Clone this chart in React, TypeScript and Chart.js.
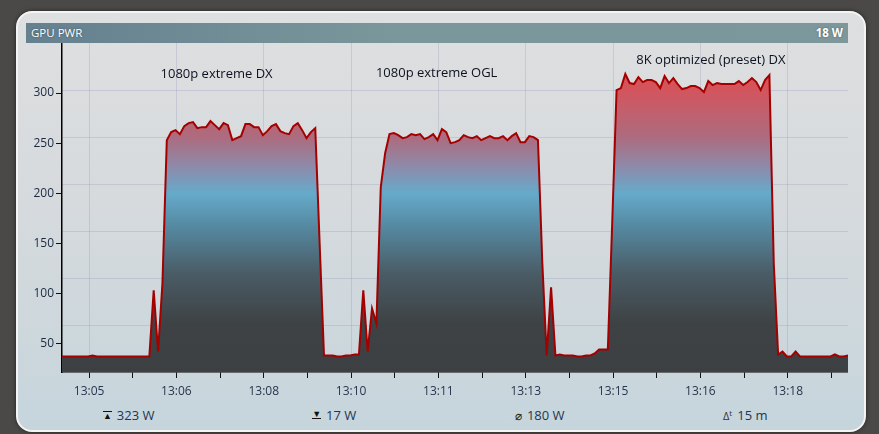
import { useEffect, useRef } from "react"
import { Chart, registerables } from "chart.js"

Chart.register(...registerables)

// samples every 5 s, starting 13:04:29 (seconds since midnight)
const START = 47069
const STEP = 5
const SPAN = 900

const power = [
  37, 37, 37, 37, 37, 37, 37, 38, 37, 37, 37, 37, 37, 37, 37, 37, 37, 37, 37, 37, 37,
  103, 42, 110,
  253, 261, 263, 259, 267, 270, 271, 265, 266, 266, 272, 268, 264, 270, 268, 253, 255, 257,
  269, 269, 266, 266, 258, 262, 267, 269, 262, 260, 259, 267, 270, 263, 255, 261, 265,
  150,
  38, 38, 38, 37, 37, 38, 38, 39, 39,
  103, 42, 85, 70, 206, 240,
  259, 260, 258, 255, 256, 259, 258, 259, 254, 256, 259, 253, 264, 261, 250, 251, 253, 258,
  256, 255, 257, 253, 255, 257, 255, 255, 257, 253, 257, 260, 251, 251, 257, 256, 253,
  130, 38, 106, 38,
  39, 38, 38, 38, 37, 37, 38, 38, 40,
  44, 44, 44, 170,
  303, 305, 319, 310, 309, 316, 311, 313, 313, 311, 305, 317, 310, 315, 309, 304, 305, 307,
  307, 305, 301, 312, 308, 310, 309, 309, 309, 309, 312, 308, 311, 315, 311, 303, 313, 318,
  130, 39, 42, 37, 37, 42,
  37, 37, 37, 37, 37, 37, 37, 37,
  39, 37, 37, 38,
]

const xMajorTimes = [47100, 47200, 47300, 47400, 47500, 47600, 47700, 47800, 47900]
const xTickLabels = ["13:05", "13:06", "13:08", "13:10", "13:11", "13:13", "13:15", "13:16", "13:18"]
const xMinorTimes = [47150, 47250, 47350, 47450, 47550, 47650, 47750, 47850, 47950]
const yTicks = [50, 100, 150, 200, 250, 300]

const noteLabels = ["1080p extreme DX", "1080p extreme OGL", "8K optimized (preset) DX"]
const noteTimes = [47246, 47498, 47812]
const noteValues = [318.5, 320, 333]

const statKinds = ["max", "min", "avg", "dt"]
const statTexts = ["323 W", "17 W", "180 W", "15 m"]

const FONT = "'Open Sans', 'Noto Sans', sans-serif"
const gridColor = "rgba(110,120,175,0.2)"

const notesPlugin = {
  id: "notes",
  afterDatasetsDraw(chart: any) {
    const { ctx, scales } = chart
    ctx.save()
    ctx.font = "13px 'Open Sans'"
    ctx.fillStyle = "#0c1220"
    ctx.textAlign = "center"
    ctx.textBaseline = "middle"
    noteLabels.forEach((t, i) => {
      ctx.fillText(t, scales.x.getPixelForValue(noteTimes[i]), scales.y.getPixelForValue(noteValues[i]))
    })
    ctx.restore()
  },
}

function fillGradient(context: any) {
  const { chart } = context
  const { ctx, chartArea, scales } = chart
  if (!chartArea) return "rgba(60,64,66,1)"
  const y = scales.y
  const g = ctx.createLinearGradient(0, chartArea.bottom, 0, chartArea.top)
  const stops: [number, string][] = [
    [21.5, "rgb(60,64,66)"],
    [70, "rgb(62,66,68)"],
    [120, "rgb(74,92,102)"],
    [170, "rgb(86,140,165)"],
    [200, "rgb(102,170,202)"],
    [225, "rgb(140,140,172)"],
    [255, "rgb(172,108,128)"],
    [305, "rgb(212,84,92)"],
    [350, "rgb(226,76,80)"],
  ]
  const span = y.max - y.min
  stops.forEach(([v, c]) => g.addColorStop(Math.min(1, Math.max(0, (v - y.min) / span)), c))
  return g
}

function GpuChart() {
  const chartRef = useRef<HTMLCanvasElement>(null)
  const chartInstance = useRef<Chart | null>(null)

  useEffect(() => {
    if (!chartRef.current) return
    if (chartInstance.current) chartInstance.current.destroy()
    const ctx = chartRef.current.getContext("2d")
    if (!ctx) return

    const points = power.map((v, i) => ({ x: START + i * STEP, y: v }))
    const allTicks = [...xMajorTimes, ...xMinorTimes].sort((a, b) => a - b)

    chartInstance.current = new Chart(ctx, {
      type: "line",
      data: {
        datasets: [
          {
            data: points,
            borderColor: "#a30000",
            borderWidth: 2,
            pointRadius: 0,
            tension: 0,
            fill: "start",
            backgroundColor: fillGradient,
          },
        ],
      },
      options: {
        responsive: true,
        maintainAspectRatio: false,
        animation: false,
        layout: { padding: 0 },
        plugins: { legend: { display: false }, tooltip: { enabled: false } },
        scales: {
          x: {
            type: "linear",
            min: START,
            max: START + SPAN,
            z: 1,
            afterBuildTicks: (s: any) => {
              s.ticks = allTicks.map((v) => ({ value: v }))
            },
            afterFit: (s: any) => {
              s.height = 30
              s.paddingLeft = 0
              s.paddingRight = 0
            },
            ticks: {
              autoSkip: false,
              maxRotation: 0,
              padding: 6,
              color: "#26364e",
              font: { family: FONT, size: 12 },
              callback: (v: any) => {
                const i = xMajorTimes.indexOf(Number(v))
                return i >= 0 ? xTickLabels[i] : ""
              },
            },
            grid: {
              color: (c: any) => (c.tick && xMajorTimes.includes(c.tick.value) ? gridColor : "rgba(0,0,0,0)"),
              tickColor: "#111",
              tickLength: 6,
            },
            border: { color: "#000", width: 1.5 },
          },
          y: {
            min: 21.5,
            max: 350,
            afterBuildTicks: (s: any) => {
              s.ticks = yTicks.map((v) => ({ value: v }))
            },
            afterFit: (s: any) => {
              s.width = 44
              s.paddingTop = 0
              s.paddingBottom = 0
            },
            ticks: { padding: 2, color: "#1c2a40", font: { family: FONT, size: 12 } },
            grid: { drawOnChartArea: false, tickColor: "#111", tickLength: 6 },
            border: { color: "#000", width: 1.5 },
          },
          g: {
            position: "right",
            min: 0,
            max: 7,
            z: 1,
            ticks: { display: false, stepSize: 1 },
            grid: {
              color: (c: any) => (c.tick && c.tick.value > 0 && c.tick.value < 7 ? gridColor : "rgba(0,0,0,0)"),
              drawTicks: false,
            },
            border: { display: false },
            afterFit: (s: any) => {
              s.width = 0
              s.paddingTop = 0
              s.paddingBottom = 0
            },
          },
        },
      },
      plugins: [notesPlugin],
    } as any)

    return () => {
      if (chartInstance.current) {
        chartInstance.current.destroy()
        chartInstance.current = null
      }
    }
  }, [])

  return <canvas ref={chartRef} />
}

function StatIcon({ kind }: { kind: string }) {
  if (kind === "max")
    return (
      <span style={{ display: "inline-block", fontSize: 9, lineHeight: "8px", borderTop: "1.5px solid #111", color: "#111", marginRight: 5, verticalAlign: 1 }}>
        ▲
      </span>
    )
  if (kind === "min")
    return (
      <span style={{ display: "inline-block", fontSize: 9, lineHeight: "8px", borderBottom: "1.5px solid #111", color: "#111", marginRight: 5, verticalAlign: 3 }}>
        ▼
      </span>
    )
  if (kind === "avg") return <span style={{ fontSize: 12, color: "#222", marginRight: 5 }}>⌀</span>
  return (
    <span style={{ fontSize: 11, color: "#333", marginRight: 5 }}>
      Δ<span style={{ fontSize: 8, position: "relative", top: -4 }}>t</span>
    </span>
  )
}

export default function App() {
  return (
    <div style={{ position: "fixed", left: 0, top: 0, width: 879, height: 434, background: "#4b4947", overflow: "hidden", fontFamily: FONT }}>
      <div
        style={{
          position: "absolute",
          left: 16,
          top: 11,
          width: 846,
          height: 417,
          border: "2px solid #f4f4f4",
          borderRadius: 16,
          background: "linear-gradient(180deg, #dedfe0 0%, #d6dadd 45%, #c6d5dc 100%)",
          boxShadow: "0 0 4px rgba(0,0,0,0.5)",
        }}
      />
      <div
        style={{
          position: "absolute",
          left: 26,
          top: 23,
          width: 822,
          height: 20,
          background: "linear-gradient(90deg, #65808f 0%, #7a979b 45%, #7d979b 100%)",
          color: "#fff",
          fontSize: 11.5,
          lineHeight: "20px",
          textShadow: "0 0 2px rgba(0,0,0,0.4)",
        }}
      >
        <span style={{ position: "absolute", left: 5 }}>GPU PWR</span>
        <span style={{ position: "absolute", right: 5, fontWeight: 700 }}>18 W</span>
      </div>
      <div style={{ position: "absolute", left: 18, top: 43, width: 830, height: 359 }}>
        <GpuChart />
      </div>
      <div style={{ position: "absolute", left: 26, top: 405, width: 822, height: 20, display: "flex", color: "#1f3550", fontSize: 13, lineHeight: "20px" }}>
        {statKinds.map((k, i) => (
          <div key={k} style={{ flex: 1, textAlign: "center" }}>
            <StatIcon kind={k} />
            {statTexts[i]}
          </div>
        ))}
      </div>
    </div>
  )
}
